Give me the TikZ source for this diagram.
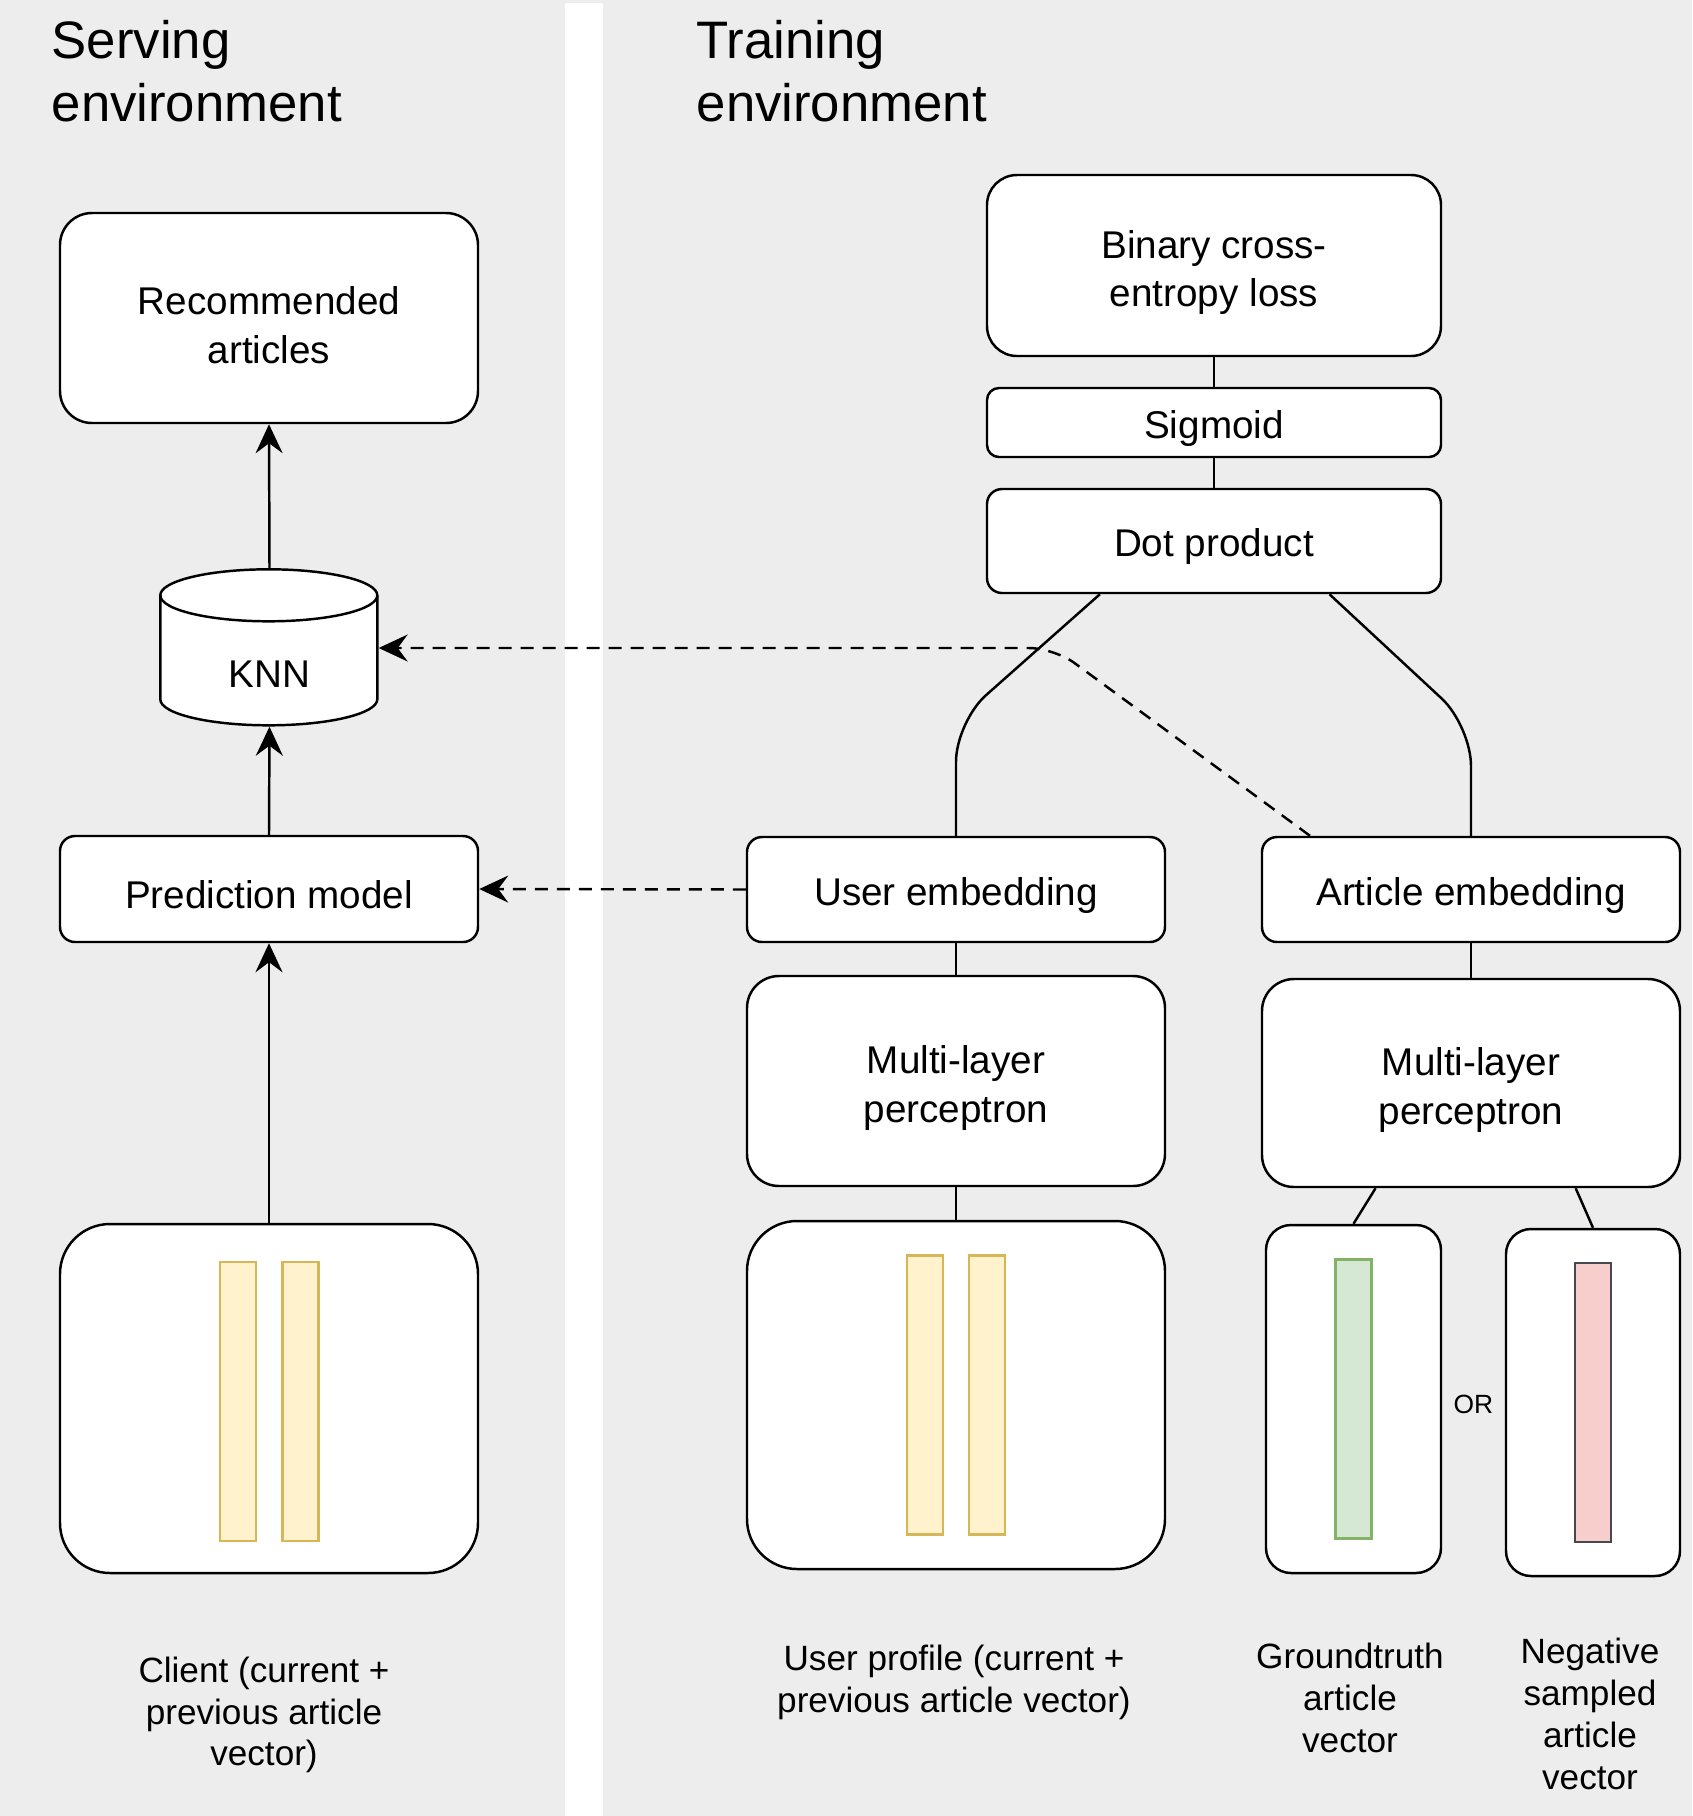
\documentclass[tikz,border=0pt]{standalone}
\usepackage{fontspec}
\setmainfont{Liberation Sans}
\usetikzlibrary{arrows.meta, positioning, calc}

\definecolor{panelgray}{HTML}{EDEDED}
\definecolor{barfill}{HTML}{FFF2CC}
\definecolor{barline}{HTML}{D6B656}
\definecolor{posfill}{HTML}{D5E8D4}
\definecolor{posline}{HTML}{82B366}
\definecolor{negfill}{HTML}{F8CECC}
\definecolor{negline}{HTML}{45484C}

% pushes two-line box texts a little lower
\newcommand{\boxstrut}{\rule{0pt}{4.2mm}}

\begin{document}
\begin{tikzpicture}[
		x=0.1mm, y=-0.1mm,
		box/.style={rectangle, draw, rounded corners=3.2mm, fill=white, line width=0.7pt, align=center, inner sep=0, font=\fontsize{11}{13.8}\selectfont, execute at begin node={\rule{0pt}{3.9mm}}},
		thinbox/.style={box, rounded corners=1.5mm},
		vecbox/.style={box, rounded corners=5mm},
		bar/.style={rectangle, draw=barline, fill=barfill, line width=0.6pt, minimum width=3.6mm, minimum height=27.9mm, inner sep=0},
		heading/.style={anchor=north west, align=left, inner sep=0, font=\fontsize{15}{17.8}\selectfont},
		caption/.style={align=center, inner sep=0, font=\fontsize{10}{11.9}\selectfont},
		link/.style={line width=0.7pt},
		arrow/.style={-{Stealth[length=2.9mm, width=2.7mm, inset=1mm]}, line width=0.7pt},
		dasharrow/.style={arrow, dash pattern=on 1.3mm off 0.9mm}
		]
		% panels
		\useasboundingbox (0,0) rectangle (1692,1816);
		\fill[panelgray] (0,0) rectangle (1692,1816);
		\fill[white] (565,3) rectangle (603,1816);
		\node[heading] (serve) at (51,20) {Serving\\environment};
		\node[heading] (train) at (696,20) {Training\\environment};

		% serving side
		\node[box, minimum width=41.8mm, minimum height=21mm] (rec) at (269,318) {\boxstrut Recommended\\articles};
		\node[minimum width=21.7mm, minimum height=15.6mm, inner sep=0] (knn) at (269.5,648) {};
		\draw[link, fill=white] (knn.north west) ++(0,-2.6mm) -- ++(0,-10.4mm)
			arc[start angle=180, end angle=360, x radius=10.85mm, y radius=2.6mm] -- ++(0,10.4mm)
			arc[start angle=0, end angle=180, x radius=10.85mm, y radius=2.6mm] -- cycle;
		\draw[link] (knn.north west) ++(0,-2.6mm) arc[start angle=180, end angle=360, x radius=10.85mm, y radius=2.6mm];
		\node[font=\fontsize{11}{13.8}\selectfont] (knnlabel) at ([yshift=-2.6mm]knn.center) {KNN};
		\node[thinbox, minimum width=41.8mm, minimum height=10.6mm] (pred) at (269,889) {Prediction model};
		\node[vecbox, minimum width=41.8mm, minimum height=34.9mm] (client) at (269,1398.5) {};
		\node[bar] (cbar1) at ([xshift=-3.1mm, yshift=-0.3mm]client.center) {};
		\node[bar] (cbar2) at ([xshift=3.15mm, yshift=-0.3mm]client.center) {};
		\node[caption] (clientcap) at (264,1715) {Client (current +\\previous article\\vector)};

		\draw[arrow] (knn.north) -- (rec.south);
		\draw[arrow] (pred.north) -- (knn.south);
		\draw[arrow] (client.north) -- (pred.south);

		% training side
		\node[box, rounded corners=3mm, minimum width=45.4mm, minimum height=18.1mm] (bce) at (1214,265.5) {\boxstrut Binary cross-\\entropy loss};
		\node[thinbox, rounded corners=1.2mm, minimum width=45.4mm, minimum height=6.9mm] (sig) at (1214,422.5) {Sigmoid};
		\node[thinbox, minimum width=45.4mm, minimum height=10.4mm] (dot) at (1214,541) {Dot product};
		\node[thinbox, minimum width=41.8mm, minimum height=10.5mm] (uemb) at (956,889.5) {User embedding};
		\node[thinbox, minimum width=41.8mm, minimum height=10.5mm] (aemb) at (1471,889.5) {Article embedding};
		\node[box, minimum width=41.8mm, minimum height=21mm] (umlp) at (956,1081) {\boxstrut Multi-layer\\perceptron};
		\node[box, minimum width=41.8mm, minimum height=20.8mm] (amlp) at (1471,1083) {\boxstrut Multi-layer\\perceptron};
		\node[vecbox, minimum width=41.8mm, minimum height=34.8mm] (uvec) at (956,1395) {};
		\node[bar] (ubar1) at ([xshift=-3.1mm]uvec.center) {};
		\node[bar] (ubar2) at ([xshift=3.1mm]uvec.center) {};
		\node[box, rounded corners=2.5mm, minimum width=17.5mm, minimum height=34.8mm] (gt) at (1353.5,1399) {};
		\node[bar, draw=posline, fill=posfill] (gtbar) at (gt.center) {};
		\node[box, rounded corners=2.5mm, minimum width=17.4mm, minimum height=34.7mm] (neg) at (1593,1402.5) {};
		\node[bar, draw=negline, fill=negfill] (negbar) at (neg.center) {};
		\node[font=\fontsize{7.5}{9}\selectfont] (or) at ([yshift=-0.4mm]$(gt.east)!0.5!(neg.west)$) {OR};

		\node[caption] (uveccap) at (954,1682) {User profile (current +\\previous article vector)};
		\node[caption] (gtcap) at (1350,1698) {Groundtruth\\article\\vector};
		\node[caption] (negcap) at (1590,1714) {Negative\\sampled\\article\\vector};

		\draw[link] (bce) -- (sig);
		\draw[link] (sig) -- (dot);
		\draw[link, rounded corners=4mm] ($(dot.south west)!0.25!(dot.south east)$) -- ([yshift=11.4mm]uemb.north) -- (uemb.north);
		\draw[link, rounded corners=4mm] ($(dot.south west)!0.753!(dot.south east)$) -- ([yshift=11mm]aemb.north) -- (aemb.north);
		\draw[link] (uemb) -- (umlp);
		\draw[link] (umlp) -- (uvec);
		\draw[link] (aemb) -- (amlp);
		\draw[link] ($(amlp.south west)!0.273!(amlp.south east)$) -- (gt.north);
		\draw[link] ($(amlp.south west)!0.749!(amlp.south east)$) -- (neg.north);

		% trained parts handed over to serving
		\draw[dasharrow] (uemb.west) -- (pred.east);
		\draw[dasharrow, rounded corners=2.5mm] ($(aemb.north west)!0.117!(aemb.north east)$) -- (1054,648) -- (knn.east);
	\end{tikzpicture}
\end{document}
